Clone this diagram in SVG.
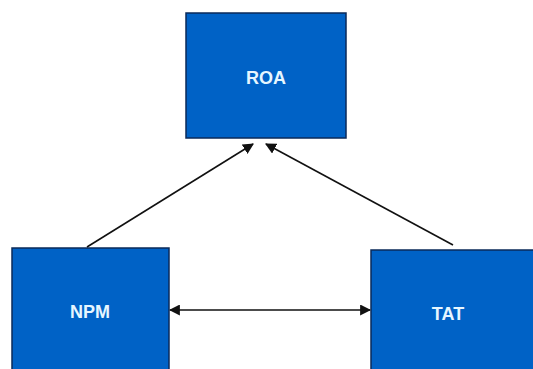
<svg xmlns="http://www.w3.org/2000/svg" width="533" height="369" viewBox="0 0 533 369">
<style>
.box{fill:#0062c6;stroke:#0a2a5a;stroke-width:1.5}
.lbl{font-family:"Liberation Sans",Arial,sans-serif;font-weight:bold;font-size:18px;fill:#e6f6ff;text-anchor:middle}
.con{stroke:#111;stroke-width:1.6;fill:none}
</style>
<defs>
<marker id="ah" viewBox="0 0 10 10" refX="9" refY="5" markerWidth="11" markerHeight="11" markerUnits="userSpaceOnUse" orient="auto-start-reverse">
<path d="M0,0 L10,5 L0,10 z" fill="#111"/>
</marker>
</defs>
<rect width="533" height="369" fill="#fff"/>
<g id="roa"><rect class="box" x="186" y="13" width="160" height="125"/><text class="lbl" x="266" y="84">ROA</text></g>
<g id="npm"><rect class="box" x="12" y="248" width="157" height="125"/><text class="lbl" x="90" y="318">NPM</text></g>
<g id="tat"><rect class="box" x="371" y="250" width="166" height="125"/><text class="lbl" x="448" y="320">TAT</text></g>
<g id="connectors">
<line class="con" x1="87" y1="247" x2="253" y2="144" marker-end="url(#ah)"/>
<line class="con" x1="453" y1="245" x2="266" y2="144" marker-end="url(#ah)"/>
<line class="con" x1="170" y1="310" x2="370" y2="310" marker-start="url(#ah)" marker-end="url(#ah)"/>
</g>
</svg>
